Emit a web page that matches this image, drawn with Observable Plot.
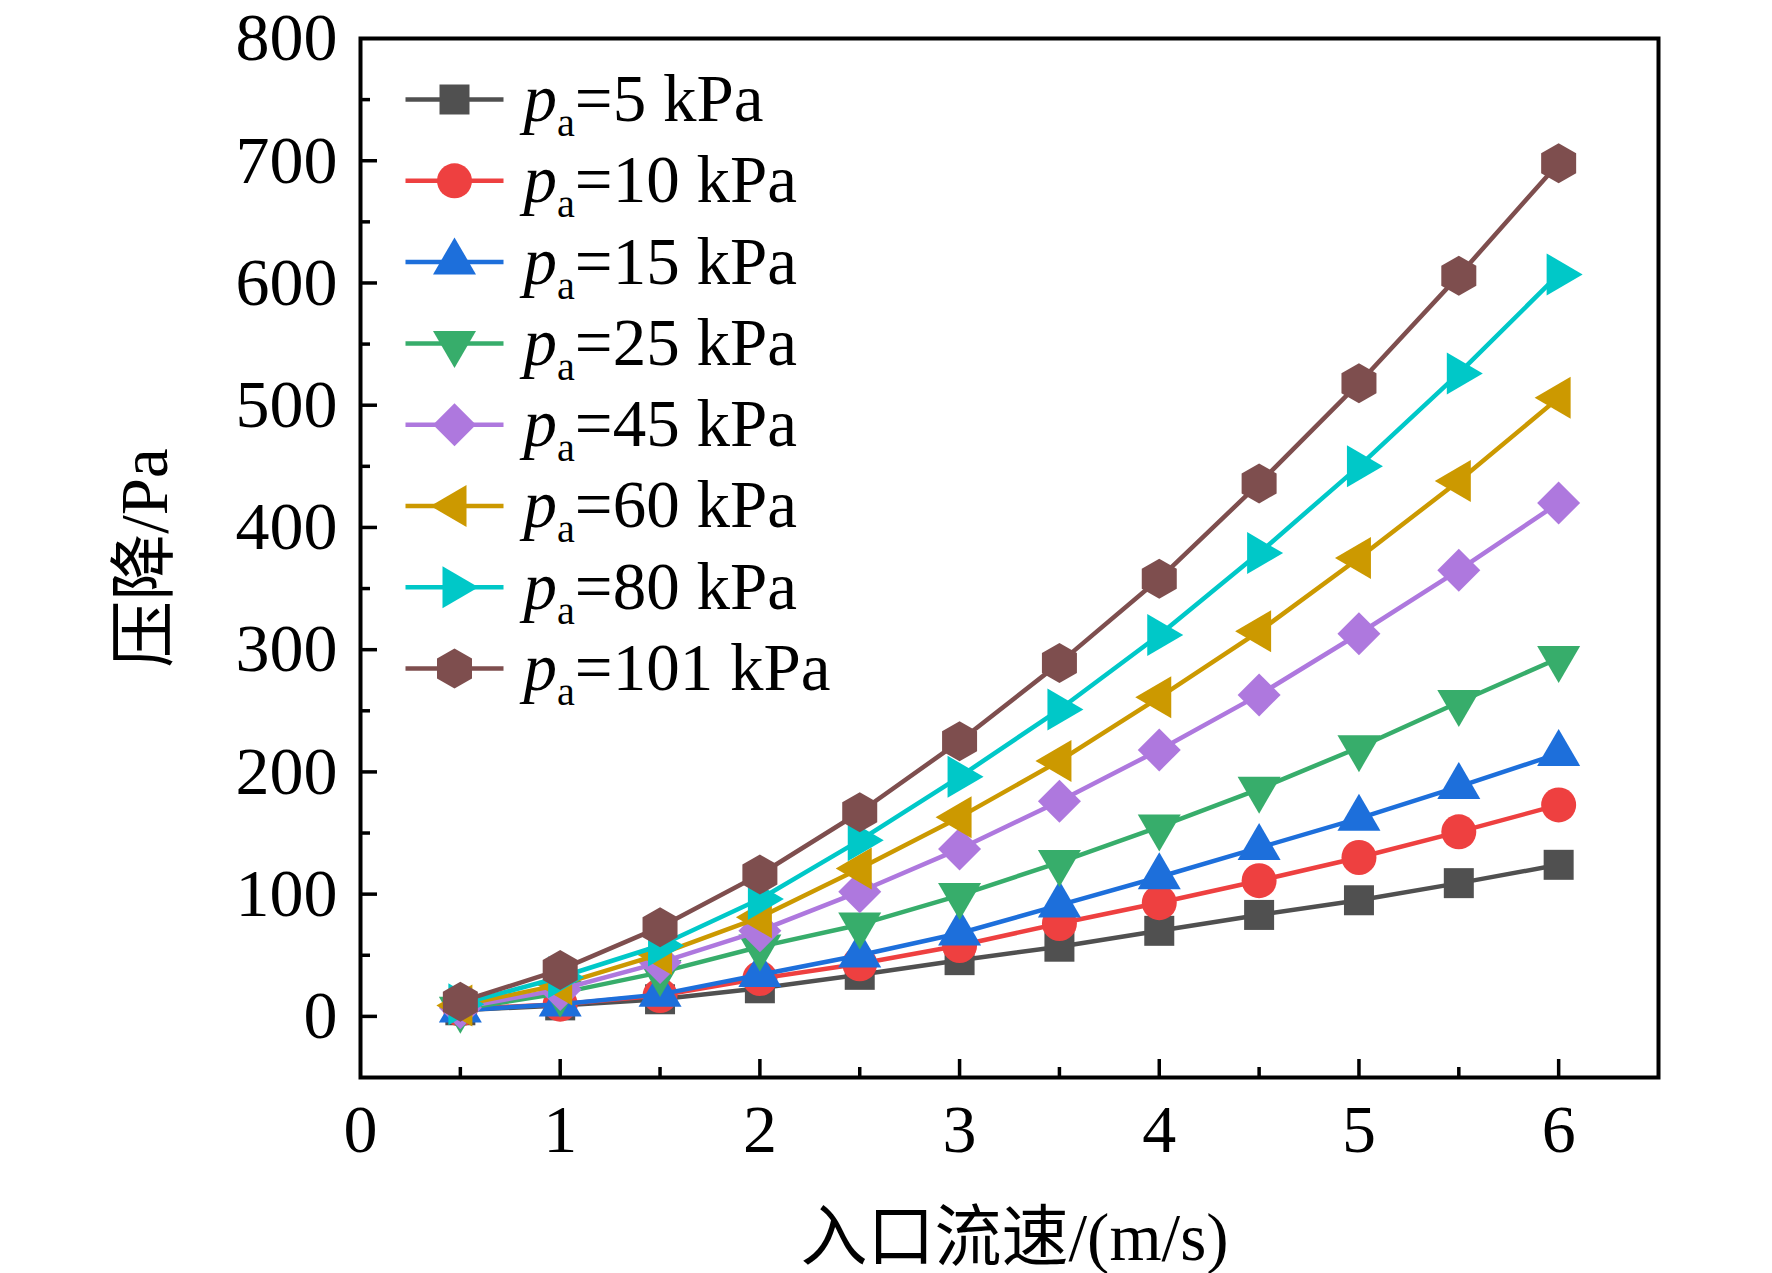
<!DOCTYPE html>
<html><head><meta charset="utf-8">
<script src="https://cdn.jsdelivr.net/npm/d3@7"></script>
<script src="https://cdn.jsdelivr.net/npm/@observablehq/plot@0.6"></script>
<style>html,body{margin:0;padding:0;background:#fff;}</style>
</head><body><div id="chart"></div>
<script>
// ---- data ----
const speeds = [0.5, 1, 1.5, 2, 2.5, 3, 3.5, 4, 4.5, 5, 5.5, 6];
const pressures = ["5", "10", "15", "25", "45", "60", "80", "101"];
const pa5   = [5, 9, 14, 23, 34, 46, 57, 70, 83, 95, 109, 124];
const pa10  = [6, 10, 17, 31, 43, 58, 76, 93, 111, 130, 151, 173];
const pa15  = [5, 10, 18, 34, 50, 68, 91, 114, 138, 162, 188, 215];
const pa25  = [6, 19, 36, 57, 75, 99, 126, 155, 186, 220, 257, 293];
const pa45  = [7, 22, 44, 70, 102, 137, 176, 218, 263, 313, 365, 420];
const pa60  = [9, 26, 51, 81, 121, 163, 209, 261, 315, 375, 438, 506];
const pa80  = [10, 32, 58, 96, 144, 196, 251, 312, 379, 450, 526, 607];
const pa101 = [12, 38, 73, 116, 167, 225, 289, 358, 436, 518, 606, 698];
const series = [pa5, pa10, pa15, pa25, pa45, pa60, pa80, pa101];
const xLabelTicks = [0, 1, 2, 3, 4, 5, 6];
const xMajor = [1, 2, 3, 4, 5, 6];
const xMinor = [0.5, 1.5, 2.5, 3.5, 4.5, 5.5];
const yLabelTicks = [0, 100, 200, 300, 400, 500, 600, 700, 800];
const yMajor = [0, 100, 200, 300, 400, 500, 600, 700];
const yMinor = [50, 150, 250, 350, 450, 550, 650, 750];
const xTitle = "入口流速/(m/s)";
const yTitle = "压降/Pa";

// ---- styles ----
const colors = ["#505050", "#EE4040", "#1D6FDB", "#37AD6B", "#AE78DE", "#CC9900", "#00C8C8", "#7E4E4E"];
function poly(pts) {
  return {draw(ctx) {
    ctx.moveTo(pts[0][0], pts[0][1]);
    for (let i = 1; i < pts.length; i++) ctx.lineTo(pts[i][0], pts[i][1]);
    ctx.closePath();
  }};
}
const sq = poly([[-15,-15],[15,-15],[15,15],[-15,15]]);
const triUp = poly([[0,-24.7],[21.5,12.3],[-21.5,12.3]]);
const triDown = poly([[0,24.7],[21.5,-12.3],[-21.5,-12.3]]);
const diamond = poly([[0,-21.5],[21.5,0],[0,21.5],[-21.5,0]]);
const triLeft = poly([[-24,0],[12,-21],[12,21]]);
const triRight = poly([[24,0],[-12,-21],[-12,21]]);
const hexa = poly([[0,-20],[17.5,-10],[17.5,10],[0,20],[-17.5,10],[-17.5,-10]]);
const symbols = [sq, "circle", triUp, triDown, diamond, triLeft, triRight, hexa];
const segment = {draw(ctx) { ctx.moveTo(-49, 0); ctx.lineTo(49, 0); }};

const W = 1772, H = 1273;
const mL = 360, mR = 114, mT = 38, mB = 196;
const legendDx = 94, legendTextDx = 163, legendDy0 = 61, legendStep = 81.3;
const fmt = d => String(d);
const tickFont = 68, legendFont = 67, titleFont = 67;
const lineW = 4.5;

const marks = [];
marks.push(Plot.axisX(xMajor, {tickSize: -18, fill: "none", strokeWidth: 3.5, label: null}));
marks.push(Plot.axisX(xMinor, {tickSize: -10, fill: "none", strokeWidth: 3.5, label: null}));
marks.push(Plot.axisX(xLabelTicks, {tickSize: 0, tickPadding: 26, fontSize: tickFont, label: null, tickFormat: fmt}));
marks.push(Plot.axisY(yMajor, {tickSize: -17, fill: "none", strokeWidth: 3.5, label: null}));
marks.push(Plot.axisY(yMinor, {tickSize: -10, fill: "none", strokeWidth: 3.5, label: null}));
marks.push(Plot.axisY(yLabelTicks, {tickSize: 0, tickPadding: 23, fontSize: tickFont, label: null, tickFormat: fmt}));

series.forEach((s, i) => {
  const rows = speeds.map((v, j) => ({x: v, y: s[j]}));
  marks.push(Plot.line(rows, {x: "x", y: "y", stroke: colors[i], strokeWidth: lineW}));
  marks.push(Plot.dot(rows, {x: "x", y: "y", symbol: symbols[i], r: 17.5, fill: colors[i], stroke: "none"}));
});
marks.push(Plot.frame({strokeWidth: 4, stroke: "black"}));

pressures.forEach((p, i) => {
  const dy = legendDy0 + i * legendStep;
  marks.push(Plot.dot([p], {frameAnchor: "top-left", dx: legendDx, dy, symbol: segment, stroke: colors[i], strokeWidth: lineW, fill: "none"}));
  marks.push(Plot.dot([p], {frameAnchor: "top-left", dx: legendDx, dy, symbol: symbols[i], r: 17.5, fill: colors[i], stroke: "none"}));
  marks.push(Plot.text([`=${p} kPa`], {frameAnchor: "top-left", dx: legendTextDx, dy, text: d => d, textAnchor: "start", lineAnchor: "middle", fontSize: legendFont, fill: "black"}));
});

marks.push(Plot.text([xTitle], {frameAnchor: "bottom", dx: 5, dy: 161, text: d => d, fontSize: titleFont, fill: "black", textAnchor: "middle", lineAnchor: "middle"}));
marks.push(Plot.text([yTitle], {frameAnchor: "left", dx: -215, text: d => d, rotate: -90, fontSize: titleFont, fill: "black", textAnchor: "middle", lineAnchor: "middle"}));

const svg = Plot.plot({
  width: W, height: H,
  marginLeft: mL, marginRight: mR, marginTop: mT, marginBottom: mB,
  x: {domain: [0, 6.5], label: null},
  y: {domain: [-50, 800], label: null},
  style: {fontFamily: "'Liberation Serif', 'Times New Roman', 'Noto Sans CJK SC', serif", fontSize: "65px", background: "white", color: "black"},
  marks
});

const ns = "http://www.w3.org/2000/svg";
svg.querySelectorAll("text").forEach(t => {
  const rest = t.textContent;
  if (!/^=\d+ kPa$/.test(rest)) return;
  while (t.firstChild) t.removeChild(t.firstChild);
  const a = document.createElementNS(ns, "tspan");
  a.setAttribute("font-style", "italic");
  a.textContent = "p";
  const b = document.createElementNS(ns, "tspan");
  b.setAttribute("font-size", "0.6em");
  b.setAttribute("dy", "15");
  b.textContent = "a";
  const c = document.createElementNS(ns, "tspan");
  c.setAttribute("dy", "-15");
  c.textContent = rest;
  t.append(a, b, c);
});

document.getElementById("chart").append(svg);
</script>
</body></html>
